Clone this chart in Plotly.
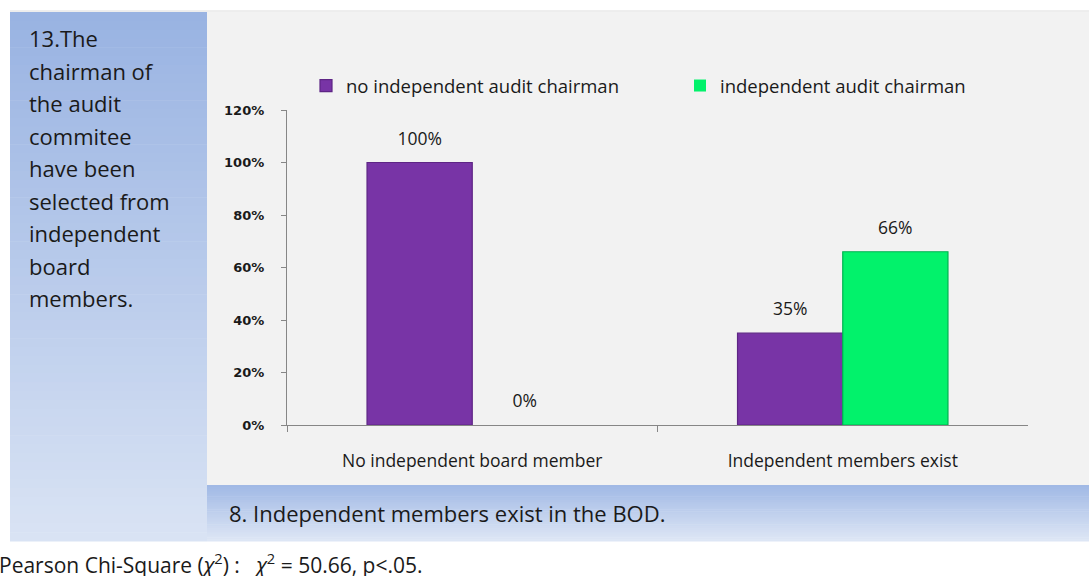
import plotly.graph_objects as go

categories = ["No independent board member", "Independent members exist"]
series_names = ["no independent audit chairman", "independent audit chairman"]
no_indep_chair = [100, 35]
indep_chair = [0, 66]
y_ticks = [0, 20, 40, 60, 80, 100, 120]
y_tick_labels = ["0%", "20%", "40%", "60%", "80%", "100%", "120%"]
left_title_lines = ["13.The", "chairman of", "the audit", "commitee", "have been",
                    "selected from", "independent", "board", "members."]
bottom_title = "8. Independent members exist in the BOD."
footnote = "Pearson Chi-Square (<i>χ</i><sup>2</sup>) :   <i>χ</i><sup>2</sup> = 50.66, p<.05."

W, H = 1089, 576
purple = "#7834a6"
green = "#02f26b"
FONT = "Open Sans"
TXT = "#1a1a1a"


def px(x):
    return x / W


def py(y):
    return 1 - y / H


def mix(c1, c2, t):
    a = [int(c1[i:i + 2], 16) for i in (1, 3, 5)]
    b = [int(c2[i:i + 2], 16) for i in (1, 3, 5)]
    return "#" + "".join(f"{round(a[k] + (b[k] - a[k]) * t):02x}" for k in range(3))


shapes = []


def gradient_rect(x0, x1, y0, y1, ctop, cbot, n=60):
    step = (y1 - y0) / n
    for i in range(n):
        shapes.append(dict(type="rect", xref="paper", yref="paper",
                           x0=px(x0), x1=px(x1), y0=py(y0 + i * step), y1=py(y0 + (i + 1) * step + 0.6),
                           fillcolor=mix(ctop, cbot, i / (n - 1)), line=dict(width=0), layer="below"))


# chart area background
shapes.append(dict(type="rect", xref="paper", yref="paper", x0=px(207), x1=px(1089), y0=py(485), y1=py(12),
                   fillcolor="#f2f2f2", line=dict(width=0), layer="below"))
gradient_rect(10, 207, 12, 541, "#99b3e2", "#d9e3f4")
gradient_rect(207, 1089, 485, 541, "#a1b9e5", "#dde6f5", n=30)
shapes.append(dict(type="line", xref="paper", yref="paper", x0=px(10), x1=px(1089), y0=py(11), y1=py(11),
                   line=dict(color="#dcdcdc", width=1)))

fig = go.Figure()
fig.add_trace(go.Bar(name=series_names[0], x=categories, y=no_indep_chair, offsetgroup="a",
                     marker=dict(color=purple, line=dict(color="#5e2585", width=1.2)),
                     legend="legend"))
fig.add_trace(go.Bar(name=series_names[1], x=categories, y=indep_chair, offsetgroup="b",
                     marker=dict(color=green, line=dict(color="#00b350",
                                                        width=[1.2 if v > 0 else 0 for v in indep_chair])),
                     legend="legend2"))
# value labels, grouped like the bars
for vals, grp in ((no_indep_chair, "a"), (indep_chair, "b")):
    fig.add_trace(go.Scatter(x=categories, y=vals, offsetgroup=grp, mode="markers+text",
                             text=[f"{v}%" for v in vals], textposition="top center",
                             marker=dict(size=20, color="rgba(0,0,0,0)"), cliponaxis=False,
                             textfont=dict(family=FONT, size=17.5, color=TXT),
                             showlegend=False, hoverinfo="skip"))

annotations = []
for i, line in enumerate(left_title_lines):
    annotations.append(dict(xref="paper", yref="paper", x=px(27), y=py(38 + i * 32.5),
                            xanchor="left", yanchor="middle", showarrow=False, text=line,
                            font=dict(family=FONT, size=22, color=TXT)))
annotations.append(dict(xref="paper", yref="paper", x=px(227), y=py(513), xanchor="left", yanchor="middle",
                        showarrow=False, text=bottom_title, font=dict(family=FONT, size=22, color=TXT)))
annotations.append(dict(xref="paper", yref="paper", x=px(-3), y=py(563), xanchor="left", yanchor="middle",
                        showarrow=False, text=footnote, font=dict(family=FONT, size=21, color=TXT)))

legend_common = dict(orientation="h", yanchor="middle", xanchor="left",
                     font=dict(family=FONT, size=18.5, color=TXT), bgcolor="rgba(0,0,0,0)",
                     itemwidth=30)

fig.update_layout(
    width=W, height=H, margin=dict(l=0, r=0, t=0, b=0),
    paper_bgcolor="white", plot_bgcolor="rgba(0,0,0,0)",
    barmode="group", bargap=0.432, bargroupgap=0,
    scattermode="group", scattergap=0.432,
    shapes=shapes, annotations=annotations,
    showlegend=True,
    legend=dict(x=px(306), y=py(86), **legend_common),
    legend2=dict(x=px(680), y=py(86), **legend_common),
    xaxis=dict(domain=[px(287), px(1028)], showline=True, linecolor="#868686", linewidth=1.3,
               ticks="outside", tickson="boundaries", ticklen=6, tickcolor="#868686",
               ticklabelstandoff=20, tickfont=dict(family=FONT, size=17.5, color=TXT),
               showgrid=False, fixedrange=True, automargin=False),
    yaxis=dict(domain=[py(425), py(110)], range=[0, 120], tickvals=y_ticks, ticktext=y_tick_labels,
               showline=True, linecolor="#868686", linewidth=1.3, ticks="outside", ticklen=5,
               tickcolor="#868686", ticklabelstandoff=14,
               tickfont=dict(family="DejaVu Sans", size=13, color=TXT, weight="bold"),
               showgrid=False, zeroline=False, fixedrange=True, automargin=False),
)

fig.write_html("out.html", config={"displayModeBar": False},
               post_script="document.body.style.margin='0';document.body.style.overflow='hidden';")
